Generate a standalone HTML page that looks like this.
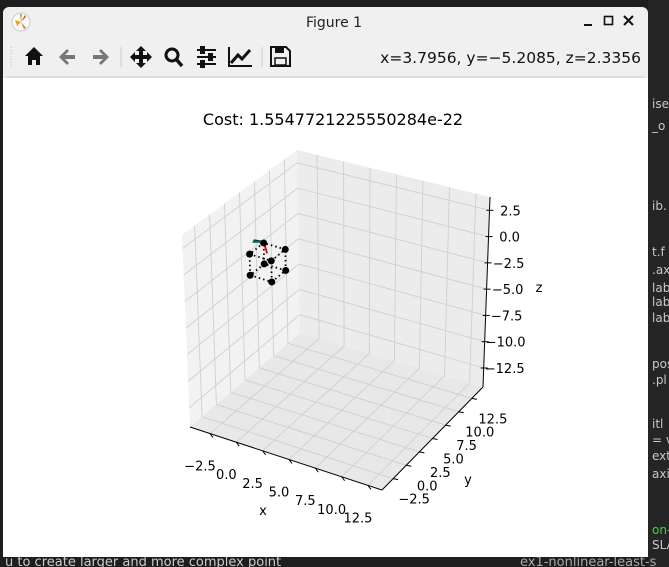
<!DOCTYPE html>
<html><head><meta charset="utf-8">
<style>
html,body{margin:0;padding:0;width:669px;height:567px;overflow:hidden;background:#1f1f1f;}
svg{display:block;}
text{font-family:"DejaVu Sans","Liberation Sans",sans-serif;}
</style></head>
<body>
<svg id="root" width="669" height="567" viewBox="0 0 669 567">
  <rect x="0" y="0" width="669" height="567" fill="#1e1e1e"/>
  <rect x="648" y="0" width="21" height="567" fill="#252526"/>
  <g font-family="Liberation Mono, monospace" font-size="12" fill="#c8c8c8">
    <text x="652" y="108">ise</text><text x="652" y="130">_o</text>
    <text x="652" y="210">ib.</text><text x="652" y="256">t.f</text><text x="652" y="274">.ax</text>
    <text x="652" y="292">lab</text><text x="652" y="306">lab</text><text x="652" y="322">lab</text>
    <text x="652" y="368">pos</text><text x="652" y="384">.pl</text><text x="652" y="428">itl</text>
    <text x="652" y="444">= v</text><text x="652" y="460">ext</text><text x="652" y="478">axi</text>
    <text x="652" y="534" fill="#4ec94e">on-</text><text x="652" y="549">SLA</text>
  </g>
  <text x="5" y="566" font-size="13" fill="#cccccc" font-family="Liberation Sans, sans-serif">u to create larger and more complex point</text>
  <text x="520" y="566" font-size="13" fill="#aaaaaa" font-family="Liberation Mono, monospace">ex1-nonlinear-least-s</text>

  <rect x="3" y="7" width="645" height="550" rx="6" fill="#f0f0f0"/>
  <rect x="3" y="78" width="645" height="479" fill="#ffffff"/>
  <line x1="6" y1="77" x2="645" y2="77" stroke="#c8c8c8" stroke-width="1"/>
  <g>
    <circle cx="21" cy="22" r="9" fill="#fafafa" stroke="#ccc"/>
    <path d="M15 20 L21 22 L17 26Z" fill="#f0a020"/><path d="M21 22 L25 15 L26 17Z" fill="#e05020"/>
    <path d="M21 22 L26 28 L24 29Z" fill="#e07030"/><path d="M21 22 L20 14 L22 14Z" fill="#70c040"/>
  </g>
  <text x="334" y="27" font-size="14" text-anchor="middle" fill="#222">Figure 1</text>
  <g><rect x="584" y="24" width="8" height="2" fill="#111"/></g>
  <g><rect x="604.5" y="16.5" width="8" height="8" fill="none" stroke="#111" stroke-width="1.6"/></g>
  <g><path d="M624 16 L633 25 M633 16 L624 25" stroke="#111" stroke-width="2"/></g>
  <g>
    <line x1="11" y1="47" x2="11" y2="67" stroke="#bbb" stroke-dasharray="1,2"/>
    <g><path d="M25 56 L34 47 L43 56 L40 56 L40 65 L36 65 L36 60 L32 60 L32 65 L28 65 L28 56Z" fill="#111"/></g>
    <g><path d="M59 57 L67 49 L69 51 L65 55 L75 55 L75 59 L65 59 L69 63 L67 65Z" fill="#777"/></g>
    <g><path d="M109 57 L101 49 L99 51 L103 55 L93 55 L93 59 L103 59 L99 63 L101 65Z" fill="#777"/></g>
    <line x1="121" y1="47" x2="121" y2="67" stroke="#ccc"/>
    <g><path d="M141 46 L146 51 L143 51 L143 55 L147 55 L147 52 L152 57 L147 62 L147 59 L143 59 L143 63 L146 63 L141 68 L136 63 L139 63 L139 59 L135 59 L135 62 L130 57 L135 52 L135 55 L139 55 L139 51 L136 51Z" fill="#111"/></g>
    <g><circle cx="172" cy="55" r="6" fill="none" stroke="#111" stroke-width="3"/><path d="M176 59 L182 66" stroke="#111" stroke-width="3.5"/></g>
    <g stroke="#111" stroke-width="2"><path d="M197 50 H216 M197 57 H216 M197 64 H216"/><rect x="201" y="47" width="3" height="6" fill="#111"/><rect x="209" y="54" width="3" height="6" fill="#111"/><rect x="201" y="61" width="3" height="6" fill="#111"/></g>
    <g><path d="M229 47 V66 H252" fill="none" stroke="#111" stroke-width="2"/><path d="M231 63 L238 55 L242 59 L250 50" fill="none" stroke="#111" stroke-width="3"/></g>
    <line x1="262" y1="47" x2="262" y2="67" stroke="#ccc"/>
    <g><path d="M271 47 H286 L290 51 V66 H271Z" fill="none" stroke="#111" stroke-width="2"/><rect x="275" y="48" width="9" height="5" fill="#111"/><rect x="275" y="58" width="11" height="7" fill="none" stroke="#111" stroke-width="1.5"/></g>
    <text x="641" y="63" font-size="15.5" text-anchor="end" fill="#111">x=3.7956, y=−5.2085, z=2.3356</text>
  </g>

  <text x="333" y="125" font-size="16" text-anchor="middle" fill="#000">Cost: 1.5547721225550284e-22</text>
  <g id="plot"></g>
</svg>
<script>
const xTicks = [-2.5, 0, 2.5, 5, 7.5, 10, 12.5];
const yTicks = [-2.5, 0, 2.5, 5, 7.5, 10, 12.5];
const zTicks = [2.5, 0, -2.5, -5, -7.5, -10, -12.5];
const cubeX = [0, 2, 2, 0, 0, 2, 2, 0];
const cubeY = [-1.4, -1.4, 1, 1, -1.4, -1.4, 1, 1];
const cubeZ = [0, 0, 0, 0, 2, 2, 2, 2];
const cubeEdges = [[0,1],[1,2],[2,3],[3,0],[4,5],[5,6],[6,7],[7,4],[0,4],[1,5],[2,6],[3,7]];
const frameOrigin = [0, 1, 2.1];
const frameAxes = [[-0.5,-0.8,0.35],[-0.7,-0.6,0.05],[0.3,0,-1.0]];
const frameColors = ['#1010d0','#108010','#e01010'];

const NS = 'http://www.w3.org/2000/svg';
const plot = document.getElementById('plot');
const Bf=[190,427], Cf=[382,490], Af=[300,333], Df=[483,387];
const Bt=[182,235], At=[297,150], Dt=[490,197], Ct=[381.5,299];
function lerp(a,b,t){return [a[0]+(b[0]-a[0])*t, a[1]+(b[1]-a[1])*t];}
function box(u,v,w){
  const f=lerp(lerp(Bf,Cf,u),lerp(Af,Df,u),v);
  const t=lerp(lerp(Bt,Ct,u),lerp(At,Dt,u),v);
  return lerp(f,t,w);
}
const xu = x => 0.104 + (x+2.5)/15*0.823;
const yv = y => 0.11 + (y+2.5)/15*0.78;
const zw = z => 0.10 + (z+12.5)/15*0.83;
function proj(x,y,z){return box(xu(x),yv(y),zw(z));}
function mk(tag, attrs){const e=document.createElementNS(NS,tag);for(const k in attrs)e.setAttribute(k,attrs[k]);plot.appendChild(e);return e;}
function poly(pts){return pts.map(p=>p.join(',')).join(' ');}

let e;
e=mk('polygon',{points:poly([Bf,Af,At,Bt]),fill:'#f2f2f2'});


e=mk('polygon',{points:poly([Af,Df,Dt,At]),fill:'#ececec'});


e=mk('polygon',{points:poly([Bf,Cf,Df,Af]),fill:'#e8e8e8'});



const gs={stroke:'#cfcfcf','stroke-width':0.9,fill:'none'};
function gl(p,q,name){e=mk('line',Object.assign({x1:p[0],y1:p[1],x2:q[0],y2:q[1]},gs));}
xTicks.forEach(x=>{const u=xu(x);gl(box(u,0,0),box(u,1,0),'x-gridline');gl(box(u,1,0),box(u,1,1),'x-gridline');});
yTicks.forEach(y=>{const v=yv(y);gl(box(0,v,0),box(1,v,0),'y-gridline');gl(box(0,v,0),box(0,v,1),'y-gridline');});
zTicks.forEach(z=>{const w=zw(z);gl(box(0,0,w),box(0,1,w),'z-gridline');gl(box(0,1,w),box(1,1,w),'z-gridline');});

function axLine(p,q,name){e=mk('line',{x1:p[0],y1:p[1],x2:q[0],y2:q[1],stroke:'#000','stroke-width':1});}
axLine(Bf,Cf,'x-axis-line');axLine(Cf,Df,'y-axis-line');axLine(Df,Dt,'z-axis-line');

function lbl(x,y,s,name,anchor){e=mk('text',{x:x,y:y,'font-size':13,'text-anchor':anchor||'middle',fill:'#000'});e.textContent=s;}
const fmt=v=>(v<0?'\u2212':'')+Math.abs(v).toFixed(1);
xTicks.forEach(x=>{const p=box(xu(x),0,0);axLine(p,[p[0]+3,p[1]+4],'x-tick');lbl(p[0]-10,p[1]+37,fmt(x),'x-tick-label');});
yTicks.forEach(y=>{const p=box(1,yv(y),0);axLine(p,[p[0]+5,p[1]+1],'y-tick');lbl(p[0]+21,p[1]+25,fmt(y),'y-tick-label');});
zTicks.forEach(z=>{const p=box(1,1,zw(z));axLine([p[0]-3,p[1]],[p[0]+4,p[1]],'z-tick');lbl(p[0]+21,p[1]+5,fmt(z),'z-tick-label');});
lbl(263,515,'x','x-axis-title');lbl(468,484,'y','y-axis-title');lbl(539,292,'z','z-axis-title');

cubeEdges.forEach(([a,b])=>{const p=proj(cubeX[a],cubeY[a],cubeZ[a]),q=proj(cubeX[b],cubeY[b],cubeZ[b]);
  e=mk('line',{x1:p[0],y1:p[1],x2:q[0],y2:q[1],stroke:'#000','stroke-width':1.8,'stroke-dasharray':'1.5,3'});
  
  });
frameAxes.forEach((d,i)=>{const p=proj(...frameOrigin),q=proj(frameOrigin[0]+d[0],frameOrigin[1]+d[1],frameOrigin[2]+d[2]);
  e=mk('line',{x1:p[0],y1:p[1],x2:q[0],y2:q[1],stroke:frameColors[i],'stroke-width':2});
  
  });
cubeX.forEach((x,i)=>{const p=proj(x,cubeY[i],cubeZ[i]);
  e=mk('circle',{cx:p[0],cy:p[1],r:3.5,fill:'#000'});
  
  });
</script>
</body></html>
